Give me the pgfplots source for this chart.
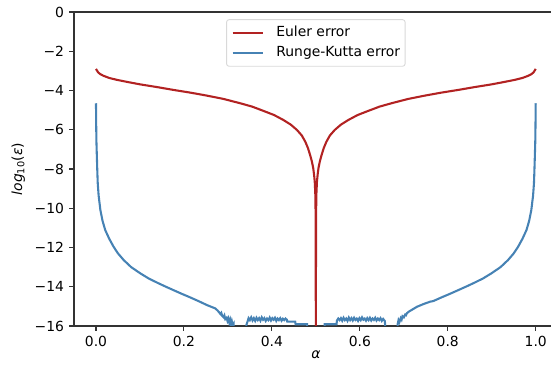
\documentclass[border=0pt]{standalone}
\usepackage{fontspec}
\setmainfont{DejaVu Sans}
\usepackage{pgfplots}
\pgfplotsset{compat=1.18}
\definecolor{eulerred}{RGB}{178,34,34}
\definecolor{rkblue}{RGB}{70,130,180}
\begin{document}
\fontsize{13.9bp}{16.7bp}\selectfont
\begin{tikzpicture}
\begin{axis}[
  at={(0,0)}, anchor=south west,
  scale only axis, width=483.7bp, height=314bp,
  xmin=-0.05, xmax=1.05, ymin=-16, ymax=0,
  xtick={0,0.2,0.4,0.6,0.8,1.0},
  xticklabels={0.0,0.2,0.4,0.6,0.8,1.0},
  ytick={-16,-14,-12,-10,-8,-6,-4,-2,0},
  yticklabels={−16,−14,−12,−10,−8,−6,−4,−2,0},
  tick align=outside, tick pos=left,
  major tick length=4.86bp,
  every tick/.style={black!80, line width=1.11bp},
  axis line style={black!80, line width=1.11bp},
  xticklabel style={inner sep=0pt, yshift=-4.86bp},
  yticklabel style={inner sep=0pt, xshift=-4.86bp},
  xlabel={\textit{α}},
  ylabel={\textit{log}\textsubscript{10}(\textit{ε})},
  every axis x label/.style={at={(axis description cs:0.5,-0.092)}, anchor=center},
  every axis y label/.style={at={(axis description cs:-0.115,0.5)}, rotate=90, anchor=center},
  legend style={at={(0.5,0.977)}, anchor=north, draw=black!15,
    rounded corners=2.5bp, fill=white, fill opacity=0.8, text opacity=1,
    line width=0.9bp, inner xsep=5bp, inner ysep=2.6bp,
    row sep=0bp, column sep=0bp,
    nodes={inner xsep=0bp, inner ysep=3.5bp, text height=10.5bp, text depth=3.2bp}},
  legend cell align=left,
  legend image code/.code={\draw[#1] (0bp,0bp) -- (30.7bp,0bp) (42.7bp,0bp);},
]
% first-order scheme
\addplot[eulerred, line width=2.08bp] coordinates {
(0.000,-2.90)(0.005,-3.08)(0.010,-3.17)(0.017,-3.25)(0.030,-3.36)(0.048,-3.46)
(0.075,-3.58)(0.101,-3.69)(0.140,-3.83)(0.176,-3.97)(0.215,-4.11)(0.252,-4.26)
(0.290,-4.43)(0.328,-4.65)(0.355,-4.82)(0.381,-5.04)(0.405,-5.25)(0.426,-5.50)
(0.443,-5.74)(0.457,-6.01)(0.468,-6.29)(0.476,-6.61)(0.482,-6.93)(0.487,-7.29)
(0.491,-7.62)(0.494,-7.95)(0.496,-8.30)(0.4975,-8.65)(0.4988,-9.30)(0.4996,-10.5)
(0.500,-17.0)
(0.5004,-10.5)(0.5012,-9.30)(0.5025,-8.65)(0.504,-8.30)(0.506,-7.95)(0.509,-7.62)
(0.513,-7.29)(0.518,-6.93)(0.524,-6.61)(0.532,-6.29)(0.543,-6.01)(0.557,-5.74)
(0.574,-5.50)(0.595,-5.25)(0.619,-5.04)(0.645,-4.82)(0.672,-4.65)(0.710,-4.43)
(0.748,-4.26)(0.785,-4.11)(0.824,-3.97)(0.860,-3.83)(0.899,-3.69)(0.925,-3.58)
(0.952,-3.46)(0.970,-3.36)(0.983,-3.25)(0.990,-3.17)(0.995,-3.08)(1.000,-2.90)
};
\addlegendentry{Euler error}
% fourth-order scheme
\addplot[rkblue, line width=2.08bp] coordinates {
(0.000,-4.65)(0.0005,-5.80)(0.001,-6.60)(0.002,-7.37)(0.003,-8.10)(0.004,-8.73)
(0.006,-9.35)(0.010,-10.09)(0.015,-10.65)(0.021,-11.11)(0.030,-11.55)(0.040,-11.96)
(0.050,-12.30)(0.063,-12.64)(0.080,-13.00)(0.101,-13.32)(0.120,-13.58)(0.139,-13.79)
(0.158,-13.99)(0.176,-14.17)(0.195,-14.36)(0.214,-14.54)(0.233,-14.73)(0.252,-14.93)
(0.262,-15.02)(0.271,-15.10)(0.276,-15.20)(0.280,-15.30)(0.283,-15.39)(0.285,-15.33)
(0.287,-15.48)(0.290,-15.55)(0.292,-15.46)(0.294,-15.65)(0.297,-15.58)(0.299,-15.74)
(0.301,-15.62)(0.303,-15.82)(0.305,-15.68)(0.307,-15.95)(0.309,-15.76)(0.311,-15.95)
(0.313,-15.88)(0.315,-17)(0.340,-17)
(0.342,-15.95)(0.345,-15.75)(0.347,-15.60)(0.350,-15.70)(0.353,-15.56)(0.356,-15.72)
(0.359,-15.60)(0.362,-15.74)(0.365,-15.58)(0.368,-15.70)(0.371,-15.60)(0.374,-15.73)
(0.377,-15.56)(0.380,-15.68)(0.383,-15.60)(0.386,-15.74)(0.389,-15.62)(0.392,-15.70)
(0.395,-15.57)(0.398,-15.72)(0.401,-15.60)(0.404,-15.68)(0.407,-15.58)(0.410,-15.74)
(0.413,-15.62)(0.416,-15.70)(0.419,-15.60)(0.422,-15.73)(0.425,-15.63)(0.428,-15.70)
(0.431,-15.62)(0.434,-15.68)(0.435,-15.78)(0.445,-15.78)(0.453,-15.78)
(0.454,-15.91)(0.480,-15.91)(0.481,-17)(0.519,-17)
(0.520,-15.91)(0.547,-15.91)(0.548,-15.72)(0.551,-15.62)(0.554,-15.70)(0.557,-15.60)
(0.560,-15.73)(0.563,-15.58)(0.566,-15.70)(0.569,-15.62)(0.572,-15.74)(0.575,-15.57)
(0.578,-15.70)(0.581,-15.60)(0.584,-15.72)(0.587,-15.58)(0.590,-15.69)(0.593,-15.62)
(0.596,-15.74)(0.599,-15.60)(0.602,-15.70)(0.605,-15.56)(0.608,-15.68)(0.611,-15.62)
(0.614,-15.73)(0.617,-15.60)(0.620,-15.70)(0.623,-15.58)(0.626,-15.72)(0.629,-15.62)
(0.632,-15.69)(0.635,-15.58)(0.638,-15.72)(0.641,-15.62)(0.644,-15.70)(0.647,-15.60)
(0.650,-15.74)(0.653,-15.64)(0.657,-15.75)(0.660,-17)(0.684,-17)
(0.686,-15.91)(0.688,-15.70)(0.690,-15.80)(0.693,-15.60)(0.695,-15.68)(0.697,-15.50)
(0.700,-15.56)(0.703,-15.42)(0.705,-15.45)(0.707,-15.35)(0.712,-15.26)(0.718,-15.18)
(0.730,-15.02)(0.745,-14.88)(0.760,-14.76)(0.767,-14.73)(0.786,-14.54)(0.805,-14.36)
(0.824,-14.17)(0.842,-13.99)(0.861,-13.79)(0.880,-13.58)(0.899,-13.32)(0.920,-13.00)
(0.937,-12.64)(0.950,-12.30)(0.960,-11.96)(0.970,-11.55)(0.979,-11.11)(0.985,-10.65)
(0.990,-10.09)(0.994,-9.35)(0.996,-8.73)(0.997,-8.10)(0.998,-7.37)(0.999,-6.60)
(0.9995,-5.80)(1.000,-4.65)
};
\addlegendentry{Runge-Kutta error}
\end{axis}
\pgfresetboundingbox
\path[use as bounding box] (-74bp,-41bp) rectangle (477bp,326bp);
\end{tikzpicture}
\end{document}
